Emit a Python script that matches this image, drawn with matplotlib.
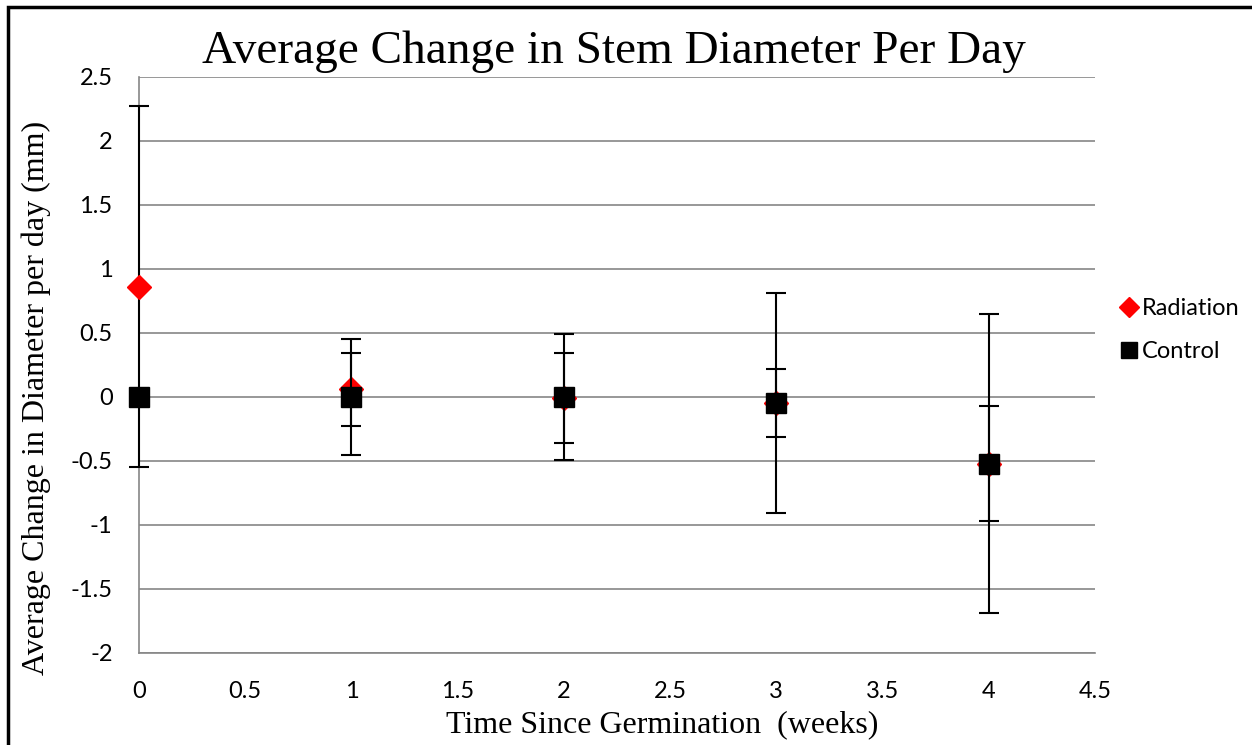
import matplotlib.pyplot as plt
from matplotlib.patches import Rectangle

weeks = [0, 1, 2, 3, 4]
radiation = [0.86, 0.06, -0.01, -0.05, -0.52]
radiation_err = [1.41, 0.285, 0.35, 0.265, 0.45]
control = [0.0, 0.0, 0.0, -0.05, -0.52]
control_err = [0.0, 0.45, 0.49, 0.86, 1.165]

y_ticks = [-2, -1.5, -1, -0.5, 0, 0.5, 1, 1.5, 2, 2.5]
x_ticks = [0, 0.5, 1, 1.5, 2, 2.5, 3, 3.5, 4, 4.5]

fig = plt.figure(figsize=(12.52, 7.45), dpi=100)
ax = fig.add_axes([0.111, 0.1235, 0.7636, 0.7732])

grid_color = '#868686'
rad = ax.errorbar(weeks, radiation, yerr=radiation_err, fmt='D', color='red', markersize=12,
                  ecolor='black', elinewidth=1.5, capsize=7, capthick=1.5, label='Radiation', zorder=3)
ctl = ax.errorbar(weeks, control, yerr=control_err, fmt='s', color='black', markersize=14,
                  ecolor='black', elinewidth=1.5, capsize=7, capthick=1.5, label='Control', zorder=4)
for container in (rad, ctl):
    for art in container.get_children():
        art.set_clip_on(False)

ax.set_xlim(0, 4.5)
ax.set_ylim(-2, 2.5)
ax.set_xticks(x_ticks)
ax.set_yticks(y_ticks)
ax.set_xticklabels([f'{t:g}' for t in x_ticks])
ax.set_yticklabels([f'{t:g}' for t in y_ticks])
ax.tick_params(length=0, labelsize=17)
ax.tick_params(axis='y', pad=19)
ax.tick_params(axis='x', pad=20)
for lab in ax.get_xticklabels() + ax.get_yticklabels():
    lab.set_family('Lato')
ax.yaxis.grid(True, color=grid_color, linewidth=1.2)
ax.set_axisbelow(True)
for side in ['top', 'right']:
    ax.spines[side].set_visible(False)
for side in ['left', 'bottom']:
    ax.spines[side].set_color(grid_color)
    ax.spines[side].set_linewidth(1.2)

ax.set_xlabel('Time Since Germination  (weeks)', family='Liberation Serif', fontsize=23)
ax.set_ylabel('Average Change in Diameter per day (mm)', family='Liberation Serif', fontsize=23)
ax.xaxis.set_label_coords(0.547, -0.1)
ax.yaxis.set_label_coords(-0.092, 0.443)
fig.text(0.49, 0.93, 'Average Change in Stem Diameter Per Day', family='Liberation Serif',
         fontsize=34, ha='center', va='center')

handles, labels = ax.get_legend_handles_labels()
handles = [h[0] for h in handles]
fig.legend(handles, labels, loc='center left', bbox_to_anchor=(0.879, 0.557), frameon=False,
           prop={'family': 'Lato', 'size': 17}, handlelength=0.6, handletextpad=0.25,
           labelspacing=0.95, markerscale=0.85)

fig.patches.append(Rectangle((0.0065, -0.05), 1.1, 1.04, transform=fig.transFigure,
                             fill=False, edgecolor='black', linewidth=2.5))

fig.savefig('out.png', dpi=100)
